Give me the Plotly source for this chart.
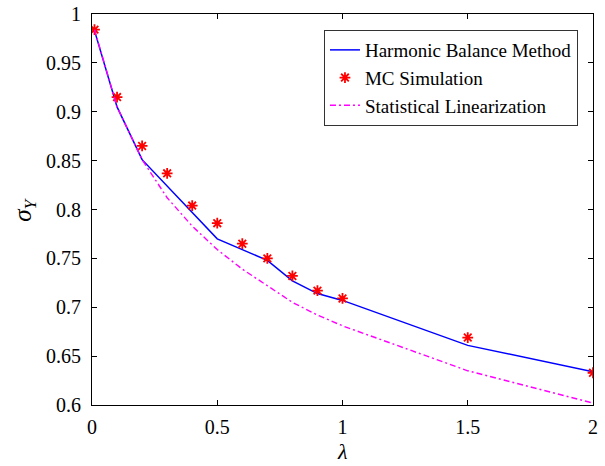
import plotly.graph_objects as go

# lambda grid shared by all three series
lam = [0.01, 0.1, 0.2, 0.3, 0.4, 0.5, 0.6, 0.7, 0.8, 0.9, 1.0, 1.5, 2.0]

# standard deviation of the response from each method
sigma_hbm = [0.983, 0.905, 0.851, 0.824, 0.797, 0.770, 0.759, 0.748, 0.727, 0.714, 0.707, 0.661, 0.634]
sigma_mc = [0.984, 0.915, 0.865, 0.837, 0.804, 0.786, 0.765, 0.750, 0.732, 0.717, 0.709, 0.669, 0.633]
sigma_sl = [0.984, 0.905, 0.851, 0.812, 0.783, 0.759, 0.739, 0.722, 0.705, 0.692, 0.681, 0.635, 0.602]

x_ticks = [0, 0.5, 1, 1.5, 2]
x_tick_text = ["0", "0.5", "1", "1.5", "2"]
y_ticks = [0.6, 0.65, 0.7, 0.75, 0.8, 0.85, 0.9, 0.95, 1.0]
y_tick_text = ["0.6", "0.65", "0.7", "0.75", "0.8", "0.85", "0.9", "0.95", "1"]

SERIF = "Liberation Serif, Times New Roman, serif"

fig = go.Figure()
fig.add_trace(go.Scatter(
    x=lam, y=sigma_hbm, mode="lines", name="Harmonic Balance Method",
    line=dict(color="#0000ff", width=1.5),
))
fig.add_trace(go.Scatter(
    x=lam, y=sigma_mc, mode="markers", name="MC Simulation",
    marker=dict(symbol="asterisk-open", size=9, color="#ff0000",
                line=dict(color="#ff0000", width=1.8)),
))
fig.add_trace(go.Scatter(
    x=lam, y=sigma_sl, mode="lines", name="Statistical Linearization",
    line=dict(color="#ff00ff", width=1.4, dash="6px,3px,2px,3px"),
))

axis_common = dict(
    showline=True, linecolor="black", linewidth=1.2, mirror="ticks",
    ticks="inside", ticklen=5, tickwidth=1, tickcolor="black",
    showgrid=False, zeroline=False, automargin=False,
    tickfont=dict(family=SERIF, size=20, color="black"),
)

fig.update_layout(
    width=605, height=466,
    margin=dict(l=92, r=12, t=14, b=61),
    paper_bgcolor="white", plot_bgcolor="white",
    showlegend=True,
    legend=dict(
        x=0.970, y=0.959, xanchor="right", yanchor="top",
        bgcolor="white", bordercolor="#333333", borderwidth=1,
        font=dict(family=SERIF, size=19, color="black"),
        itemwidth=30, tracegroupgap=0,
    ),
    xaxis=dict(range=[0, 2], tickvals=x_ticks, ticktext=x_tick_text,
               ticklabelstandoff=4, **axis_common),
    yaxis=dict(range=[0.6, 1.0], tickvals=y_ticks, ticktext=y_tick_text,
               ticklabelstandoff=6, **axis_common),
)

# axis titles
fig.add_annotation(
    text="<i>λ</i>", xref="paper", yref="paper", x=0.5, y=-0.118,
    xanchor="center", yanchor="middle", showarrow=False,
    font=dict(family=SERIF, size=22, color="black"),
)
fig.add_annotation(
    text="<i>σ</i><sub><i>Y</i></sub>", xref="paper", yref="paper", x=-0.135, y=0.5,
    xanchor="center", yanchor="middle", showarrow=False, textangle=-90,
    font=dict(family=SERIF, size=25, color="black"),
)

fig.write_html("out.html")
